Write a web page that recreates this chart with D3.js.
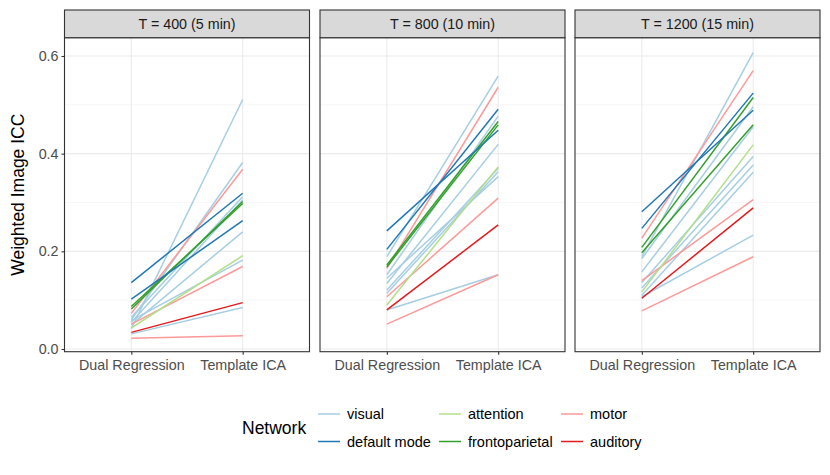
<!DOCTYPE html>
<html>
<head>
<meta charset="utf-8">
<script src="https://cdn.jsdelivr.net/npm/d3@7"></script>
<style>
  body { margin: 0; background: #fff; }
  text { font-family: "Liberation Sans", Arial, sans-serif; }
</style>
</head>
<body>
<div id="chart"></div>
<script>
var width = 830,
    height = 475;

// data
var panels = ["T = 400 (5 min)", "T = 800 (10 min)", "T = 1200 (15 min)"];
var methods = ["Dual Regression", "Template ICA"];
var networks = ["visual", "default mode", "attention", "frontoparietal", "motor", "auditory"];
var netColors = ["#a6cee3", "#1f78b4", "#b2df8a", "#33a02c", "#fb9a99", "#e31a1c"];
var yTicks = [0, 0.2, 0.4, 0.6];
var yMinor = [0.1, 0.3, 0.5];

// network of each line (drawing order)
var lineNet = ["visual", "visual", "visual", "visual", "visual", "visual", "visual",
               "motor", "motor", "motor", "attention", "auditory",
               "frontoparietal", "frontoparietal", "default mode", "default mode"];

var dr400  = [0.042, 0.060, 0.065, 0.055, 0.050, 0.058, 0.031, 0.073, 0.051, 0.022, 0.043, 0.034, 0.087, 0.082, 0.136, 0.102];
var ica400 = [0.511, 0.382, 0.312, 0.305, 0.240, 0.182, 0.085, 0.368, 0.169, 0.027, 0.191, 0.095, 0.298, 0.302, 0.319, 0.263];
var dr800  = [0.189, 0.152, 0.134, 0.121, 0.114, 0.145, 0.080, 0.165, 0.107, 0.051, 0.090, 0.080, 0.172, 0.168, 0.242, 0.204];
var ica800 = [0.559, 0.477, 0.419, 0.370, 0.363, 0.353, 0.152, 0.536, 0.309, 0.152, 0.373, 0.254, 0.466, 0.459, 0.448, 0.491];
var dr1200  = [0.189, 0.185, 0.158, 0.136, 0.125, 0.110, 0.107, 0.227, 0.140, 0.078, 0.117, 0.104, 0.208, 0.197, 0.281, 0.247];
var ica1200 = [0.607, 0.496, 0.455, 0.394, 0.377, 0.362, 0.233, 0.570, 0.306, 0.189, 0.418, 0.289, 0.515, 0.459, 0.489, 0.524];

var drVals = [dr400, dr800, dr1200];
var icaVals = [ica400, ica800, ica1200];

var svg = d3.select("#chart").append("svg")
    .attr("width", width)
    .attr("height", height);

var color = d3.scaleOrdinal().domain(networks).range(netColors);

var panelLeft = [64.5, 320, 575],
    panelW = 245,
    stripTop = 10,
    plotTop = 37.7,
    plotBottom = 351.7;

var y = d3.scaleLinear().domain([0, 0.6]).range([349, 56]);

panels.forEach(function(title, p) {
  var g = svg.append("g").attr("transform", "translate(" + panelLeft[p] + ",0)");
  var x = d3.scalePoint().domain(methods).range([0, panelW]).padding(0.6);

  // minor grid
  g.selectAll(".minor").data(yMinor).enter().append("line")
    .attr("x1", 0).attr("x2", panelW)
    .attr("y1", function(d) { return y(d); }).attr("y2", function(d) { return y(d); })
    .attr("stroke", "#f2f2f2").attr("stroke-width", 0.6);
  // major grid
  g.selectAll(".major").data(yTicks).enter().append("line")
    .attr("x1", 0).attr("x2", panelW)
    .attr("y1", function(d) { return y(d); }).attr("y2", function(d) { return y(d); })
    .attr("stroke", "#ebebeb").attr("stroke-width", 1.1);
  g.selectAll(".vgrid").data(methods).enter().append("line")
    .attr("x1", function(d) { return x(d); }).attr("x2", function(d) { return x(d); })
    .attr("y1", plotTop).attr("y2", plotBottom)
    .attr("stroke", "#ebebeb").attr("stroke-width", 1.1);

  // lines
  var rows = lineNet.map(function(n, i) {
    return { net: n, a: drVals[p][i], b: icaVals[p][i] };
  });
  g.selectAll(".seg").data(rows).enter().append("line")
    .attr("x1", x(methods[0])).attr("x2", x(methods[1]))
    .attr("y1", function(d) { return y(d.a); })
    .attr("y2", function(d) { return y(d.b); })
    .attr("stroke", function(d) { return color(d.net); })
    .attr("stroke-width", 1.5);

  // panel border
  g.append("rect").attr("x", 0).attr("y", plotTop)
    .attr("width", panelW).attr("height", plotBottom - plotTop)
    .attr("fill", "none").attr("stroke", "#333333").attr("stroke-width", 1.1);

  // strip
  g.append("rect").attr("x", 0).attr("y", stripTop)
    .attr("width", panelW).attr("height", plotTop - stripTop)
    .attr("fill", "#d9d9d9").attr("stroke", "#333333").attr("stroke-width", 1.1);
  g.append("text").attr("x", panelW / 2).attr("y", (stripTop + plotTop) / 2)
    .attr("dy", "0.35em").attr("text-anchor", "middle")
    .attr("font-size", 14.3).attr("fill", "#1a1a1a").text(title);

  // x axis
  var xAxis = d3.axisBottom(x).tickSize(3).tickPadding(5);
  var ax = g.append("g").attr("transform", "translate(0," + plotBottom + ")").call(xAxis);
  ax.select(".domain").remove();
  ax.selectAll(".tick line").attr("stroke", "#333333").attr("stroke-width", 1.1);
  ax.selectAll(".tick text").attr("font-size", 14.3).attr("fill", "#4d4d4d")
    .attr("font-family", "Liberation Sans, Arial, sans-serif");
});

// y axis
var yAxis = d3.axisLeft(y).tickValues(yTicks).tickFormat(d3.format(".1f")).tickSize(3).tickPadding(3);
var ay = svg.append("g").attr("transform", "translate(" + panelLeft[0] + ",0)").call(yAxis);
ay.select(".domain").remove();
ay.selectAll(".tick line").attr("stroke", "#333333").attr("stroke-width", 1.1);
ay.selectAll(".tick text").attr("font-size", 14.3).attr("fill", "#4d4d4d")
  .attr("font-family", "Liberation Sans, Arial, sans-serif");

svg.append("text")
  .attr("transform", "translate(18," + ((plotTop + plotBottom) / 2) + ") rotate(-90)")
  .attr("text-anchor", "middle").attr("dy", "0.35em")
  .attr("font-size", 17.5).attr("fill", "#000").text("Weighted Image ICC");

// legend
svg.append("text").attr("x", 242).attr("y", 428).attr("dy", "0.35em")
  .attr("font-size", 17.5).attr("fill", "#000").text("Network");

var legX = [318, 439, 561],
    legY = [414, 441.5];
var legOrder = [[0, 1], [2, 3], [4, 5]]; // columns
legOrder.forEach(function(col, c) {
  col.forEach(function(ni, r) {
    var lg = svg.append("g").attr("transform", "translate(" + legX[c] + "," + legY[r] + ")");
    lg.append("line").attr("x1", 0).attr("x2", 22).attr("y1", 0).attr("y2", 0)
      .attr("stroke", color(networks[ni])).attr("stroke-width", 1.5);
    lg.append("text").attr("x", 29).attr("y", 0).attr("dy", "0.35em")
      .attr("font-size", 14.5).attr("fill", "#000").text(networks[ni]);
  });
});
</script>
</body>
</html>
